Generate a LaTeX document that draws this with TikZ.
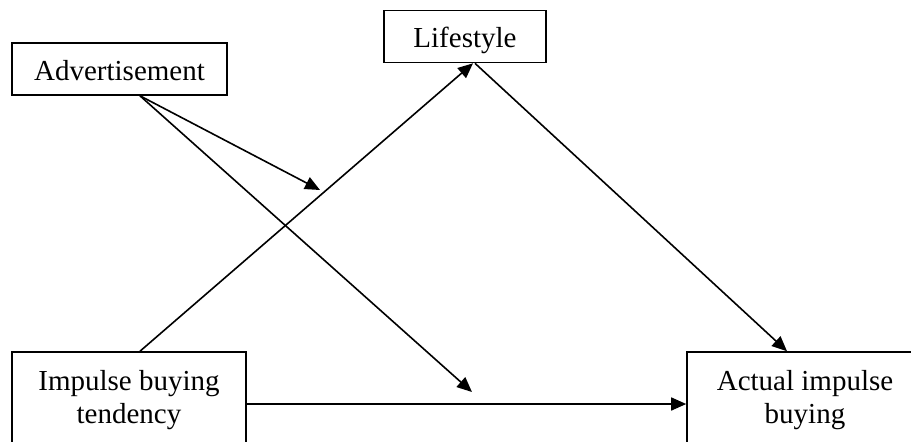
\documentclass[tikz,border=0pt]{standalone}
\usepackage{fontspec}
\setmainfont{Liberation Serif}
\usetikzlibrary{arrows.meta}

\begin{document}
\begin{tikzpicture}[x=0.5pt,y=0.5pt,yscale=-1,
  box/.style={draw,line width=0.8pt,inner sep=0pt,text height=18.5pt,text depth=7.5pt,font=\fontsize{14.5}{16.5}\selectfont},
  tallbox/.style={draw,line width=0.8pt,inner sep=0pt,align=center,minimum height=47.8pt,font=\fontsize{14.5}{16.5}\selectfont},
  link/.style={line width=0.8pt,-{Triangle[length=7.5pt,width=6.5pt]}}]
\useasboundingbox (0,0) rectangle (911,441);
\clip (0,0) rectangle (911,441);

%Shape: Rectangle [adv]
\node[box,minimum width=107.5pt] (adv) at (119.5,69) {Advertisement};
%Shape: Rectangle [life]
\node[box,minimum width=81pt] (life) at (465,36.5) {Lifestyle};
%Shape: Rectangle [imp]
\node[tallbox,minimum width=117pt] (imp) at (129,399.8) {Impulse buying\\tendency};
%Shape: Rectangle [act]
\node[tallbox,minimum width=118pt] (act) at (805,399.8) {Actual impulse\\buying};

% free ends
\coordinate (mod) at (320,190);
\coordinate (dir) at (472,392);
\coordinate (lev) at (0,404);

%Straight Lines
\draw[link] ([xshift=5.5pt]imp.north) -- ([xshift=4pt]life.south);
\draw[link] ([xshift=5pt]life.south) -- ([xshift=-9pt]act.north);
\draw[link] (imp.east |- lev) -- (act.west |- lev);
%Straight Lines from adv
\draw[link] ([xshift=10.25pt]adv.south) -- (mod);
\draw[link] ([xshift=10.25pt]adv.south) -- (dir);

\end{tikzpicture}
\end{document}
